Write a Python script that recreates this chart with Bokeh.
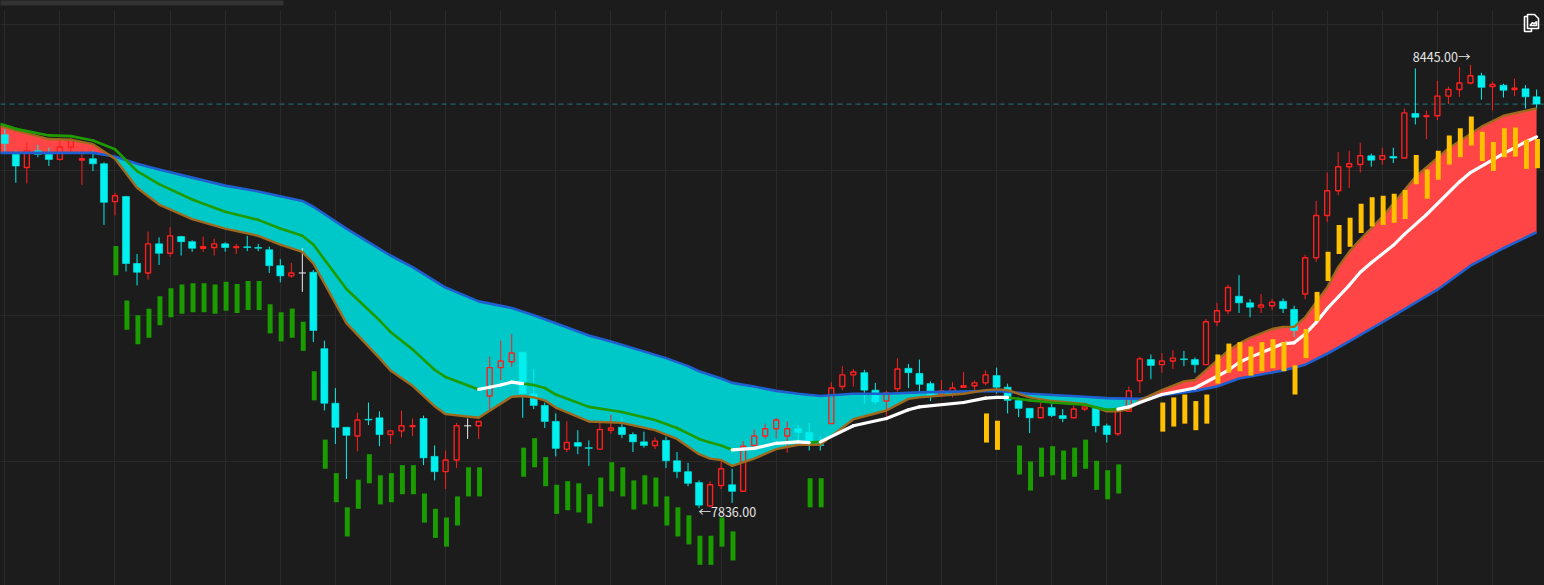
from bokeh.plotting import figure
from bokeh.embed import file_html
from bokeh.resources import INLINE
from bokeh.models import (ColumnDataSource, FixedTicker, Range1d, Span, BoxAnnotation,
                          PolyAnnotation, Grid)
from bokeh.core.properties import value
import numpy as np

BG = "#1c1c1c"
GRID = "#2a2a2a"
UP = "#ff1f1f"
DOWN = "#00f0f0"
FLAT = "#eeeeee"

open_ = [8349,8322,8304,8327,8322,8315,8332,8314,8316,8309,8257,8264,8172,8159,8199,8186,8209,8202,8193,8194,
         8199,8194,8195,8194,8191,8169,8155,8159,8160,8055,7980,7947,7935,7958,7960,7937,7942,7948,7959,7907,
         7886,7902,7949,7949,7990,8029,8037,8050,7993,7977,7955,7917,7926,7919,7917,7943,7947,7937,7927,7922,
         7929,7901,7886,7871,7839,7867,7868,7859,7922,7935,7945,7935,7945,7940,7923,7952,8003,8019,8022,7998,
         7983,8000,8028,8021,8007,7992,7995,8002,8004,8008,8018,8002,7984,7973,7960,7974,7963,7960,7972,7973,
         7949,7938,7969,8011,8040,8033,8038,8041,8040,8033,8092,8107,8127,8118,8112,8114,8120,8109,8130,8180,
         8238,8272,8305,8308,8320,8315,8319,8317,8378,8374,8375,8402,8411,8420,8430,8415,8417,8411,8412,8401]
high = [8357,8327,8338,8335,8331,8345,8345,8327,8327,8311,8269,8265,8185,8216,8208,8222,8210,8204,8209,8206,
        8201,8199,8210,8199,8195,8178,8173,8193,8163,8066,8001,7947,7967,7981,7969,7943,7970,7959,7963,7922,
        7915,7953,7959,7955,8044,8066,8075,8050,8027,7981,7966,7955,7943,7929,7955,7964,7961,7940,7941,7933,
        7934,7913,7898,7874,7873,7900,7890,7928,7944,7952,7960,7955,7950,7953,7935,8009,8031,8027,8026,8008,
        7997,8042,8034,8040,8010,8012,8009,8023,8011,8025,8029,8007,7988,7973,7981,7979,7972,7977,7977,7976,
        7952,7970,8003,8044,8047,8049,8053,8052,8043,8096,8118,8143,8156,8123,8130,8123,8124,8114,8184,8258,
        8297,8325,8327,8338,8323,8331,8331,8385,8440,8382,8423,8415,8442,8445,8434,8422,8419,8426,8417,8411]
low = [8326,8283,8282,8318,8306,8313,8325,8280,8299,8225,8238,8161,8142,8150,8170,8181,8183,8188,8188,8183,
       8188,8185,8189,8189,8159,8146,8152,8133,8064,7970,7924,7876,7914,7950,7921,7924,7933,7935,7895,7874,
       7862,7891,7931,7931,7971,8012,8030,7960,7972,7946,7907,7913,7910,7894,7917,7938,7932,7913,7919,7917,
       7891,7877,7866,7836,7837,7862,7843,7859,7921,7931,7932,7912,7927,7915,7915,7952,7998,8003,7979,7979,
       7961,7996,8001,7993,7983,7989,7988,8002,7996,8005,7993,7966,7961,7939,7960,7961,7954,7960,7969,7940,
       7926,7935,7969,7994,8013,8022,8027,8031,8022,8033,8086,8102,8104,8098,8104,8108,8104,8071,8123,8174,
       8229,8266,8276,8297,8305,8308,8310,8317,8363,8343,8369,8391,8401,8418,8397,8382,8400,8402,8385,8385]
close = [8337,8306,8327,8322,8315,8332,8342,8316,8309,8256,8265,8172,8160,8199,8186,8210,8202,8193,8195,8199,
         8194,8195,8194,8193,8169,8155,8159,8159,8080,7980,7947,7936,7957,7957,7937,7942,7949,7949,7905,7886,
         7902,7949,7949,7955,8029,8038,8049,7993,7977,7955,7918,7926,7921,7918,7944,7946,7937,7927,7922,7928,
         7901,7886,7870,7840,7868,7890,7859,7921,7935,7945,7957,7945,7940,7927,7922,8001,8019,8023,7998,7982,
         7994,8027,8022,8006,7991,7997,8001,8004,8008,8019,8002,7984,7973,7960,7974,7963,7959,7972,7975,7949,
         7937,7969,7997,8041,8032,8038,8042,8040,8033,8092,8107,8139,8118,8112,8115,8119,8110,8080,8180,8238,
         8272,8305,8309,8320,8314,8320,8317,8379,8373,8375,8402,8411,8420,8430,8414,8418,8410,8413,8401,8391]

fast_i = [-1,0,1,4,6,8,10,12,14,17,20,23,25,27,28,31,34,35,37,39,40,43,46,47,48,49,50,53,56,59,61,63,64,65,66,68,70,72,74,
          77,80,82,83,87,89,90,91,93,95,98,100,101,102,103,105,107,108,111,112,113,115,116,117,118,119,120,121,122,123,125,128,131,134,136,139]
fast_v = [8363,8359,8355,8343,8342,8336,8316,8276,8253,8233,8220,8210,8198,8188,8172,8090,8042,8025,8004,7976,7965,7960,7989,7990,7988,7984,7974,7955,7953,7943,7931,7910,7904,7902,7894,7904,7917,7923,7923,
          7958,7970,7986,7988,7993,7998,7999,7998,7988,7983,7979,7969,7969,7972,7984,7998,8010,8012,8052,8062,8070,8082,8085,8085,8098,8119,8139,8167,8188,8205,8236,8291,8330,8360,8375,8385]
slow_i = [-1,8,10,12,14,17,20,23,27,28,31,34,35,37,40,43,46,48,50,53,55,60,62,63,65,66,68,70,72,74,77,80,83,90,93,98,100,103,105,108,110,112,116,118,120,122,126,130,133,136,139]
slow_v = [8324,8324,8319,8309,8301,8290,8279,8271,8258,8250,8220,8192,8183,8167,8139,8120,8111,8101,8090,8073,8065,8042,8031,8024,8014,8008,8003,7997,7993,7990,7993,7993,7995,7997,7993,7989,7987,7986,7991,7997,8003,8014,8025,8033,8048,8065,8100,8136,8169,8193,8215]
mid_i = [-1,0,1,4,6,8,10,12,14,17,20,23,25,27,28,31,34,35,37,39,40,43,44,45,46,47,48,49,50,53,56,59,61,63,64,65,66,68,70,72,73,74,
         77,80,82,83,87,89,90,91,93,95,98,100,101,102,103,105,108,111,112,113,116,117,118,119,120,121,122,123,124,126,127,129,132,133,136,138,139]
mid_v = [8366,8362,8357,8348,8347,8341,8329,8299,8281,8260,8243,8232,8220,8210,8198,8137,8094,8078,8054,8026,8016,7999,8002,8005,8009,8007,8005,8001,7992,7975,7968,7957,7946,7931,7926,7922,7916,7918,7925,7927,7926,7927,
         7949,7959,7971,7975,7981,7987,7988,7988,7984,7981,7978,7971,7972,7975,7981,7992,8001,8025,8036,8043,8062,8063,8075,8091,8110,8126,8142,8160,8173,8197,8212,8239,8284,8297,8323,8339,8346]
white_spans = [(43,47),(66,73),(74,91),(101,139)]

green_i = [10,11,12,13,14,15,16,17,18,19,20,21,22,23,24,25,26,27,28,29,30,31,32,33,34,35,36,37,38,39,40,41,42,43,
           47,48,49,50,51,52,53,54,55,56,57,58,59,60,61,62,63,64,65,66,73,74,92,93,94,95,96,97,98,99,100,101]
green_v = [8176,8101,8081,8090,8107,8118,8123,8125,8125,8123,8127,8124,8128,8128,8096,8085,8090,8072,8004,7910,7864,7817,7855,7890,7861,7864,7875,7875,7836,7815,7803,7832,7872,7872,
           7899,7912,7886,7848,7853,7850,7835,7858,7879,7872,7854,7861,7858,7832,7817,7806,7778,7778,7803,7784,7857,7857,7902,7880,7899,7901,7895,7899,7910,7881,7868,7876]
gold_i = [89,90,105,106,107,108,109,110,111,112,113,114,115,116,117,118,119,120,121,122,123,124,125,126,127,128,129,130,131,132,133,134,135,136,137,138,139]
gold_v = [7946,7936,7961,7968,7972,7963,7972,8027,8042,8044,8038,8044,8048,8044,8012,8062,8113,8168,8205,8215,8234,8243,8245,8248,8253,8301,8281,8307,8328,8338,8354,8333,8319,8338,8339,8322,8323]
grid_prices = [7900,8100,8300,8500]

W, H = 1544, 585
p = figure(width=W, height=H, output_backend="svg", toolbar_location=None,
           x_axis_type=None, y_axis_type=None,
           x_range=Range1d(-0.39, 139.72), y_range=Range1d(7729.6, 8533.35),
           min_border=0, min_border_left=0, min_border_right=0, min_border_top=0, min_border_bottom=0,
           background_fill_color=BG, border_fill_color=BG, outline_line_color=None)
p.styles = {"position": "absolute", "left": "0", "top": "0", "border": "none", "outline": "none",
            "background-color": BG}
p.add_layout(Grid(dimension=0, ticker=FixedTicker(ticks=list(range(0, 140, 5))), grid_line_color=GRID))
p.add_layout(Grid(dimension=1, ticker=FixedTicker(ticks=grid_prices), grid_line_color=GRID))

# ribbon
gx = np.arange(-1, 139.01, 0.05)
fast = np.interp(gx, fast_i, fast_v)
slow = np.interp(gx, slow_i, slow_v)
p.varea(gx, y1=slow, y2=np.maximum(fast, slow), fill_color="#ff4545")
p.varea(gx, y1=np.minimum(fast, slow), y2=slow, fill_color="#00c8c8")

# last price
p.add_layout(Span(location=close[-1], dimension="width", line_color="#207a7a",
                  line_width=1, line_dash="5 4", level="underlay"))

# candles
idx = np.arange(len(close))
o, h, l, c = map(np.array, (open_, high, low, close))
top, bot = np.maximum(o, c), np.minimum(o, c)
col = np.where(c > o, UP, np.where(c < o, DOWN, FLAT))
src = ColumnDataSource(dict(x=idx, h=h, l=l, top=top, bot=bot, col=col))
p.segment("x", "h", "x", "top", source=src, line_color="col", line_width=1)
p.segment("x", "bot", "x", "l", source=src, line_color="col", line_width=1)
up = c > o
sf = ColumnDataSource(dict(x=idx[~up], top=top[~up], bot=bot[~up], col=col[~up]))
p.vbar("x", 0.635, "bot", "top", source=sf, fill_color="col", line_color="col", line_width=0.6)
su = ColumnDataSource(dict(x=idx[up], top=top[up], bot=bot[up]))
p.vbar("x", 0.45, "bot", "top", source=su, fill_color=None, line_color=UP, line_width=1.4)

# ribbon edges and middle line
p.line(slow_i, slow_v, line_color="#1f5fcf", line_width=2.6, line_join="round")
p.line(fast_i, fast_v, line_color="#a06a1e", line_width=2.4, line_join="round")
mi, mv = np.array(mid_i), np.array(mid_v)
is_white = np.zeros(len(mi) - 1, dtype=bool)
for a, b in white_spans:
    is_white |= (mi[:-1] >= a) & (mi[1:] <= b)
sx0, sy0, sx1, sy1 = mi[:-1], mv[:-1], mi[1:], mv[1:]
g = ~is_white
p.segment(sx0[g], sy0[g], sx1[g], sy1[g], line_color="#1f9b00", line_width=2.6, line_cap="round")
p.segment(sx0[is_white], sy0[is_white], sx1[is_white], sy1[is_white], line_color="#ffffff", line_width=3.2, line_cap="round")

# signal bars
SPAN = 20
BAR_W = 0.45
BAR_OFF = 0.08
gi, gv = np.array(green_i) + BAR_OFF, np.array(green_v)
p.vbar(gi, BAR_W, gv - SPAN, gv + SPAN, fill_color="#1a9c00", line_color=None)
ai, av = np.array(gold_i) + BAR_OFF, np.array(gold_v)
p.vbar(ai, BAR_W, av - SPAN, av + SPAN, fill_color="#ffc000", line_color=None)

# extreme labels
imax, imin = int(np.argmax(h)), int(np.argmin(l))
LABEL_FONT = value("Noto Sans CJK SC")
p.text([imax], [h[imax]], text=[f"{h[imax]:.2f}→"], text_align="right", text_baseline="middle",
       x_offset=0, y_offset=-8, text_color="#e6e6e6", text_font=LABEL_FONT, text_font_size="12.5px")
p.text([imin], [l[imin]], text=[f"←{l[imin]:.2f}"], text_align="left", text_baseline="middle",
       x_offset=-0.5, y_offset=3.5, text_color="#e6e6e6", text_font=LABEL_FONT, text_font_size="12.5px")

# top clear band and scroll strip
for kw in (dict(left=-1, right=W, top=-1, bottom=10, fill_color=BG),
           dict(left=-1, right=283, top=-1, bottom=5, fill_color="#333333")):
    p.add_layout(BoxAnnotation(left_units="canvas", right_units="canvas", top_units="canvas",
                               bottom_units="canvas", fill_alpha=1, line_color=None, **kw))

# export icon
def poly(xs, ys, fill=None):
    return PolyAnnotation(xs=xs, ys=ys, xs_units="canvas", ys_units="canvas",
                          fill_color=fill, fill_alpha=1 if fill else 0,
                          line_color="#ffffff", line_alpha=1, line_width=1.6)
p.add_layout(poly([1524, 1531, 1531, 1524], [16, 16, 31, 31]))
p.add_layout(poly([1527, 1534, 1538, 1538, 1527], [14, 14, 18, 28, 28], BG))
p.add_layout(poly([1529.5, 1532, 1533.5, 1536, 1536, 1529.5], [25, 22, 23.5, 21, 25, 25]))

open("out.html", "w").write(file_html(p, INLINE))
